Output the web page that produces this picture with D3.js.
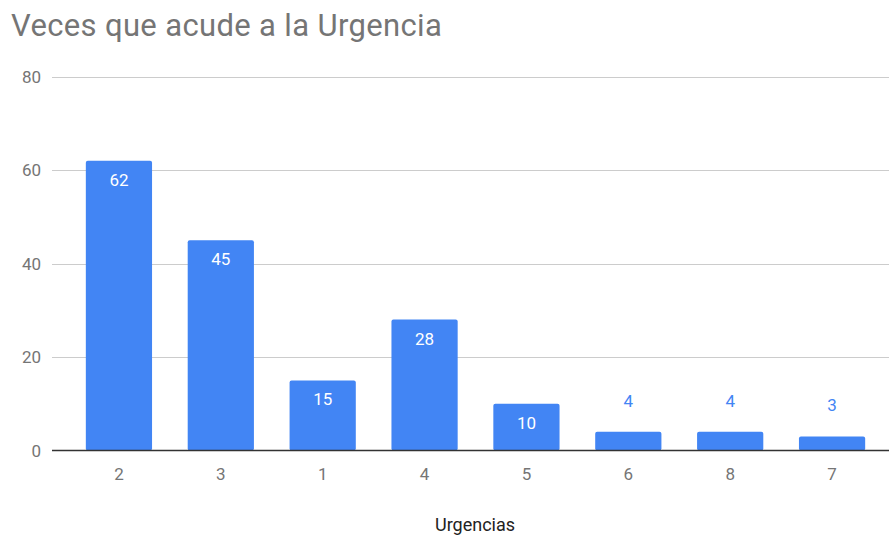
<!DOCTYPE html>
<html>
<head>
<meta charset="utf-8">
<script src="https://cdn.jsdelivr.net/npm/d3@7"></script>
<style>
  body { margin: 0; background: #fff; }
  text { font-family: Roboto, "Noto Sans", sans-serif; }
</style>
</head>
<body>
<script>
var categories = ['2', '3', '1', '4', '5', '6', '8', '7'];
var values = [62, 45, 15, 28, 10, 4, 4, 3];
var yTicks = [0, 20, 40, 60, 80];

var svg = d3.select('body').append('svg')
    .attr('width', 889)
    .attr('height', 536);

var x = d3.scaleBand()
    .domain(categories)
    .range([68, 883])
    .paddingInner(0.35)
    .paddingOuter(0.175);

var y = d3.scaleLinear()
    .domain([0, 80])
    .range([450.5, 76.5]);

// title
svg.append('text')
    .attr('x', 11)
    .attr('y', 36)
    .attr('font-size', 31)
    .attr('letter-spacing', 0.35)
    .attr('fill', '#757575')
    .text('Veces que acude a la Urgencia');

// gridlines + y labels
svg.selectAll('.grid')
    .data(yTicks.filter(function(d) { return d > 0; }))
    .enter().append('line')
    .attr('x1', 52)
    .attr('x2', 889)
    .attr('y1', function(d) { return Math.round(y(d)) + 0.5; })
    .attr('y2', function(d) { return Math.round(y(d)) + 0.5; })
    .attr('stroke', '#cccccc');

svg.selectAll('.ylab')
    .data(yTicks)
    .enter().append('text')
    .attr('x', 41)
    .attr('y', function(d) { return y(d) + 6; })
    .attr('text-anchor', 'end')
    .attr('font-size', 17)
    .attr('fill', '#757575')
    .text(function(d) { return d; });

// bars
svg.selectAll('.bar')
    .data(values)
    .enter().append('rect')
    .attr('x', function(d, i) { return x(categories[i]); })
    .attr('width', x.bandwidth())
    .attr('y', function(d) { return y(d); })
    .attr('height', function(d) { return y(0) - y(d); })
    .attr('rx', 2)
    .attr('fill', '#4285f4');

// value labels
svg.selectAll('.val')
    .data(values)
    .enter().append('text')
    .attr('x', function(d, i) { return x(categories[i]) + x.bandwidth() / 2; })
    .attr('y', function(d) { return d >= 10 ? y(d) + 25 : y(d) - 25; })
    .attr('text-anchor', 'middle')
    .attr('font-size', 17)
    .attr('fill', function(d) { return d >= 10 ? '#ffffff' : '#4285f4'; })
    .text(function(d) { return d; });

// baseline
svg.append('line')
    .attr('x1', 52)
    .attr('x2', 889)
    .attr('y1', y(0))
    .attr('y2', y(0))
    .attr('stroke', '#333333')
    .attr('stroke-width', 1.5);

// x labels
svg.selectAll('.xlab')
    .data(categories)
    .enter().append('text')
    .attr('x', function(d) { return x(d) + x.bandwidth() / 2; })
    .attr('y', 480)
    .attr('text-anchor', 'middle')
    .attr('font-size', 17)
    .attr('fill', '#757575')
    .text(function(d) { return d; });

svg.append('text')
    .attr('x', 475)
    .attr('y', 531)
    .attr('text-anchor', 'middle')
    .attr('font-size', 18)
    .attr('fill', '#222222')
    .text('Urgencias');
</script>
</body>
</html>
